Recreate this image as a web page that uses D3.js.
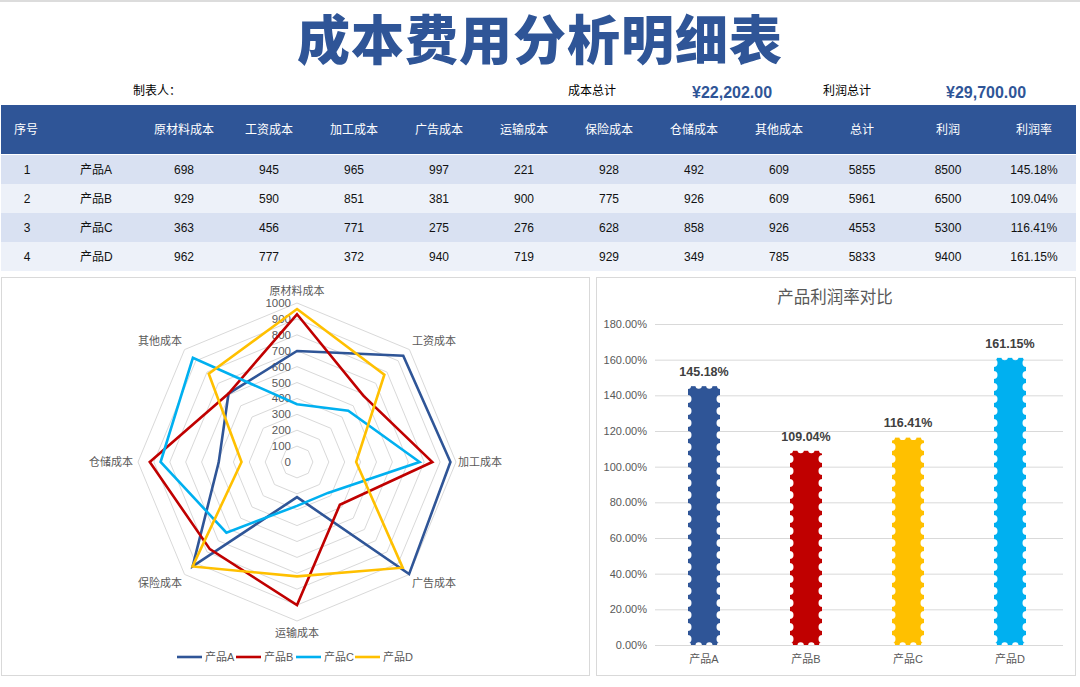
<!DOCTYPE html>
<html><head><meta charset="utf-8">
<script src="https://cdn.jsdelivr.net/npm/d3@7/dist/d3.min.js"></script>
<style>
html,body{margin:0;padding:0;background:#fff;}
svg{display:block;font-family:"Liberation Sans",Arial,"Noto Sans CJK SC",sans-serif;}
</style></head>
<body>
<svg id="c" width="1080" height="687"></svg>
<script>
// ---- data ----
const title = "成本费用分析明细表";
const costCategories = ["原材料成本","工资成本","加工成本","广告成本","运输成本","保险成本","仓储成本","其他成本"];
const products = ["产品A","产品B","产品C","产品D"];
const seriesA = [698,945,965,997,221,928,492,609];
const seriesB = [929,590,851,381,900,775,926,609];
const seriesC = [363,456,771,275,276,628,858,926];
const seriesD = [962,777,372,940,719,929,349,785];
const totals = [5855,5961,4553,5833];
const profits = [8500,6500,5300,9400];
const profitRates = [1.4518,1.0904,1.1641,1.6115];
const costTotalLabel = "¥22,202.00";
const profitTotalLabel = "¥29,700.00";
const radarTicks = [0,100,200,300,400,500,600,700,800,900,1000];
const rateTicks = [0,0.2,0.4,0.6,0.8,1.0,1.2,1.4,1.6,1.8];
const headerLabels = ["序号","","原材料成本","工资成本","加工成本","广告成本","运输成本","保险成本","仓储成本","其他成本","总计","利润","利润率"];

const allSeries = [seriesA,seriesB,seriesC,seriesD];
const lineColors = ["#2F5597","#C00000","#00B0F0","#FFC000"];
const barColors = ["#2F5597","#C00000","#FFC000","#00B0F0"];

const svg = d3.select("#c");
const blue = "#2F5597";

// top border
svg.append("rect").attr("x",0).attr("y",0).attr("width",1080).attr("height",2).attr("fill","#dcdcdc");

// title
svg.append("text").attr("x",540).attr("y",60).attr("text-anchor","middle")
  .attr("font-family","'Noto Sans CJK SC',sans-serif").attr("font-weight",900)
  .attr("font-size",53).attr("letter-spacing",1).attr("fill",blue).text(title);

// sub header
const sub = svg.append("g").attr("font-size",12);
sub.append("text").attr("x",133).attr("y",95).attr("fill","#000").text("制表人：");
sub.append("text").attr("x",568).attr("y",95).attr("fill","#000").text("成本总计");
sub.append("text").attr("x",692).attr("y",98).attr("fill",blue).attr("font-weight","bold").attr("font-size",16).text(costTotalLabel);
sub.append("text").attr("x",823).attr("y",95).attr("fill","#000").text("利润总计");
sub.append("text").attr("x",946).attr("y",98).attr("fill",blue).attr("font-weight","bold").attr("font-size",16).text(profitTotalLabel);

// table
const colX = [27,95,184,269,354,439,524,609,694,779,862,948,1034];
svg.append("rect").attr("x",1).attr("y",105).attr("width",1075).attr("height",49).attr("fill",blue);
const hdr = svg.append("g").attr("font-size",12).attr("fill","#fff");
headerLabels.forEach((h,i)=>{
  hdr.append("text").attr("x",i===0?14:colX[i]).attr("y",134)
    .attr("text-anchor",i===0?"start":"middle").text(h);
});
const rowY = d3.scaleBand().domain(d3.range(products.length)).range([155,271]);
const rowFill = ["#D9E1F2","#EDF1F9"];
products.forEach((p,r)=>{
  const y0 = rowY(r), h = rowY.bandwidth();
  svg.append("rect").attr("x",1).attr("y",y0).attr("width",1075).attr("height",h).attr("fill",rowFill[r%2]);
  const cells = [String(r+1), p, ...allSeries[r].map(String), String(totals[r]), String(profits[r]), d3.format(".2%")(profitRates[r])];
  const g = svg.append("g").attr("font-size",12).attr("fill","#111");
  cells.forEach((c,i)=>{
    g.append("text").attr("x",i===1?80:colX[i]).attr("y",y0+h/2+4)
      .attr("text-anchor",i===1?"start":"middle").text(c);
  });
});

// panels
svg.append("rect").attr("x",1.5).attr("y",277.5).attr("width",588).attr("height",398).attr("fill","#fff").attr("stroke","#d9d9d9");
svg.append("rect").attr("x",596.5).attr("y",277.5).attr("width",479).attr("height",398).attr("fill","#fff").attr("stroke","#d9d9d9");

// ---- radar ----
const cx = 297, cy = 462;
const rScale = d3.scaleLinear().domain([0,1000]).range([0,159]);
const angle = d3.scalePoint().domain(costCategories).range([0,2*Math.PI*(7/8)]);
const radar = svg.append("g").attr("transform",`translate(${cx},${cy})`);
const ringLine = d3.lineRadial().curve(d3.curveLinearClosed);
radarTicks.slice(1).forEach(t=>{
  radar.append("path").attr("d",ringLine(costCategories.map(c=>[angle(c),rScale(t)])))
    .attr("fill","none").attr("stroke","#d9d9d9").attr("stroke-width",1);
});
// tick labels
radar.append("g").attr("font-size",11.5).attr("fill","#595959").selectAll("text").data(radarTicks).join("text")
  .attr("x",-6).attr("y",d=>-rScale(d)+4).attr("text-anchor","end").text(d=>d);
// axis labels
radar.append("g").attr("font-size",11).attr("fill","#595959").selectAll("text").data(costCategories).join("text")
  .attr("x",d=>{const s=Math.sin(angle(d));
     if(s>0.9) return 161; if(s<-0.9) return -164;
     return 171*s + (s>0.1?16:(s<-0.1?-16:0));})
  .attr("y",d=>-Math.cos(angle(d))*171+4)
  .attr("text-anchor",d=>{const s=Math.sin(angle(d));return s>0.9?"start":(s<-0.9?"end":"middle");})
  .text(d=>d);
// series lines
allSeries.forEach((s,i)=>{
  radar.append("path").attr("d",ringLine(costCategories.map((c,k)=>[angle(c),rScale(s[k])])))
    .attr("fill","none").attr("stroke",lineColors[i]).attr("stroke-width",2.6).attr("stroke-linejoin","miter");
});
// legend
const legX = [177,236,296,355];
const leg = svg.append("g").attr("font-size",11).attr("fill","#595959");
products.forEach((p,i)=>{
  leg.append("line").attr("x1",legX[i]).attr("x2",legX[i]+25).attr("y1",657).attr("y2",657)
    .attr("stroke",lineColors[i]).attr("stroke-width",2.6);
  leg.append("text").attr("x",legX[i]+28).attr("y",661).text(p);
});

// ---- bar chart ----
svg.append("text").attr("x",835).attr("y",303).attr("text-anchor","middle").attr("font-size",16.5).attr("fill","#595959").text("产品利润率对比");
const y = d3.scaleLinear().domain([0,1.8]).range([645,324]);
const x = d3.scaleBand().domain(products).range([653,1061]);
const bg = svg.append("g");
bg.selectAll("line.grid").data(rateTicks).join("line").attr("class","grid")
  .attr("x1",655).attr("x2",1063).attr("y1",d=>y(d)+0.5).attr("y2",d=>y(d)+0.5)
  .attr("stroke","#d9d9d9").attr("stroke-width",1);
const yAxis = d3.axisLeft(y).tickValues(rateTicks).tickFormat(d3.format(".2%")).tickSize(0).tickPadding(0);
const ya = bg.append("g").attr("transform","translate(647,0)").call(yAxis);
ya.select(".domain").remove();
ya.selectAll("text").attr("font-size",11).attr("fill","#595959").attr("font-family","'Liberation Sans',Arial,sans-serif");
const xAxis = d3.axisBottom(x).tickSize(0).tickPadding(5);
const xa = bg.append("g").attr("transform","translate(0,650)").call(xAxis);
xa.select(".domain").remove();
xa.selectAll("text").attr("font-size",11).attr("fill","#595959").attr("font-family","'Liberation Sans',Arial,'Noto Sans CJK SC',sans-serif");

const defs = svg.append("defs");
const bw = 32;
products.forEach((p,i)=>{
  const xc = x(p)+x.bandwidth()/2, x0 = xc-bw/2, x1 = xc+bw/2;
  const yt = y(profitRates[i]), yb = y(0);
  const m = defs.append("mask").attr("id","m"+i).attr("maskUnits","userSpaceOnUse")
    .attr("x",x0-5).attr("y",yt-5).attr("width",bw+10).attr("height",yb-yt+10);
  m.append("rect").attr("x",x0).attr("y",yt).attr("width",bw).attr("height",yb-yt).attr("fill","#fff");
  const step = 12;
  for(let yy=yb-step/2; yy>yt+2; yy-=step){
    m.append("circle").attr("cx",x0-0.5).attr("cy",yy).attr("r",4).attr("fill","#000");
    m.append("circle").attr("cx",x1+0.5).attr("cy",yy).attr("r",4).attr("fill","#000");
  }
  [1/3,2/3].forEach(f=>{
    m.append("circle").attr("cx",x0+bw*f).attr("cy",yt-0.5).attr("r",3.2).attr("fill","#000");
    m.append("circle").attr("cx",x0+bw*f).attr("cy",yb+0.5).attr("r",3.2).attr("fill","#000");
  });
  [x0,x1].forEach(cxp=>{
    m.append("circle").attr("cx",cxp).attr("cy",yt).attr("r",3).attr("fill","#000");
    m.append("circle").attr("cx",cxp).attr("cy",yb).attr("r",3).attr("fill","#000");
  });
  svg.append("rect").attr("x",x0).attr("y",yt).attr("width",bw).attr("height",yb-yt)
    .attr("fill",barColors[i]).attr("mask",`url(#m${i})`);
  svg.append("text").attr("x",xc).attr("y",yt-10).attr("text-anchor","middle")
    .attr("font-size",12.5).attr("font-weight","bold").attr("fill","#404040")
    .text(d3.format(".2%")(profitRates[i]));
});
</script>
</body></html>
